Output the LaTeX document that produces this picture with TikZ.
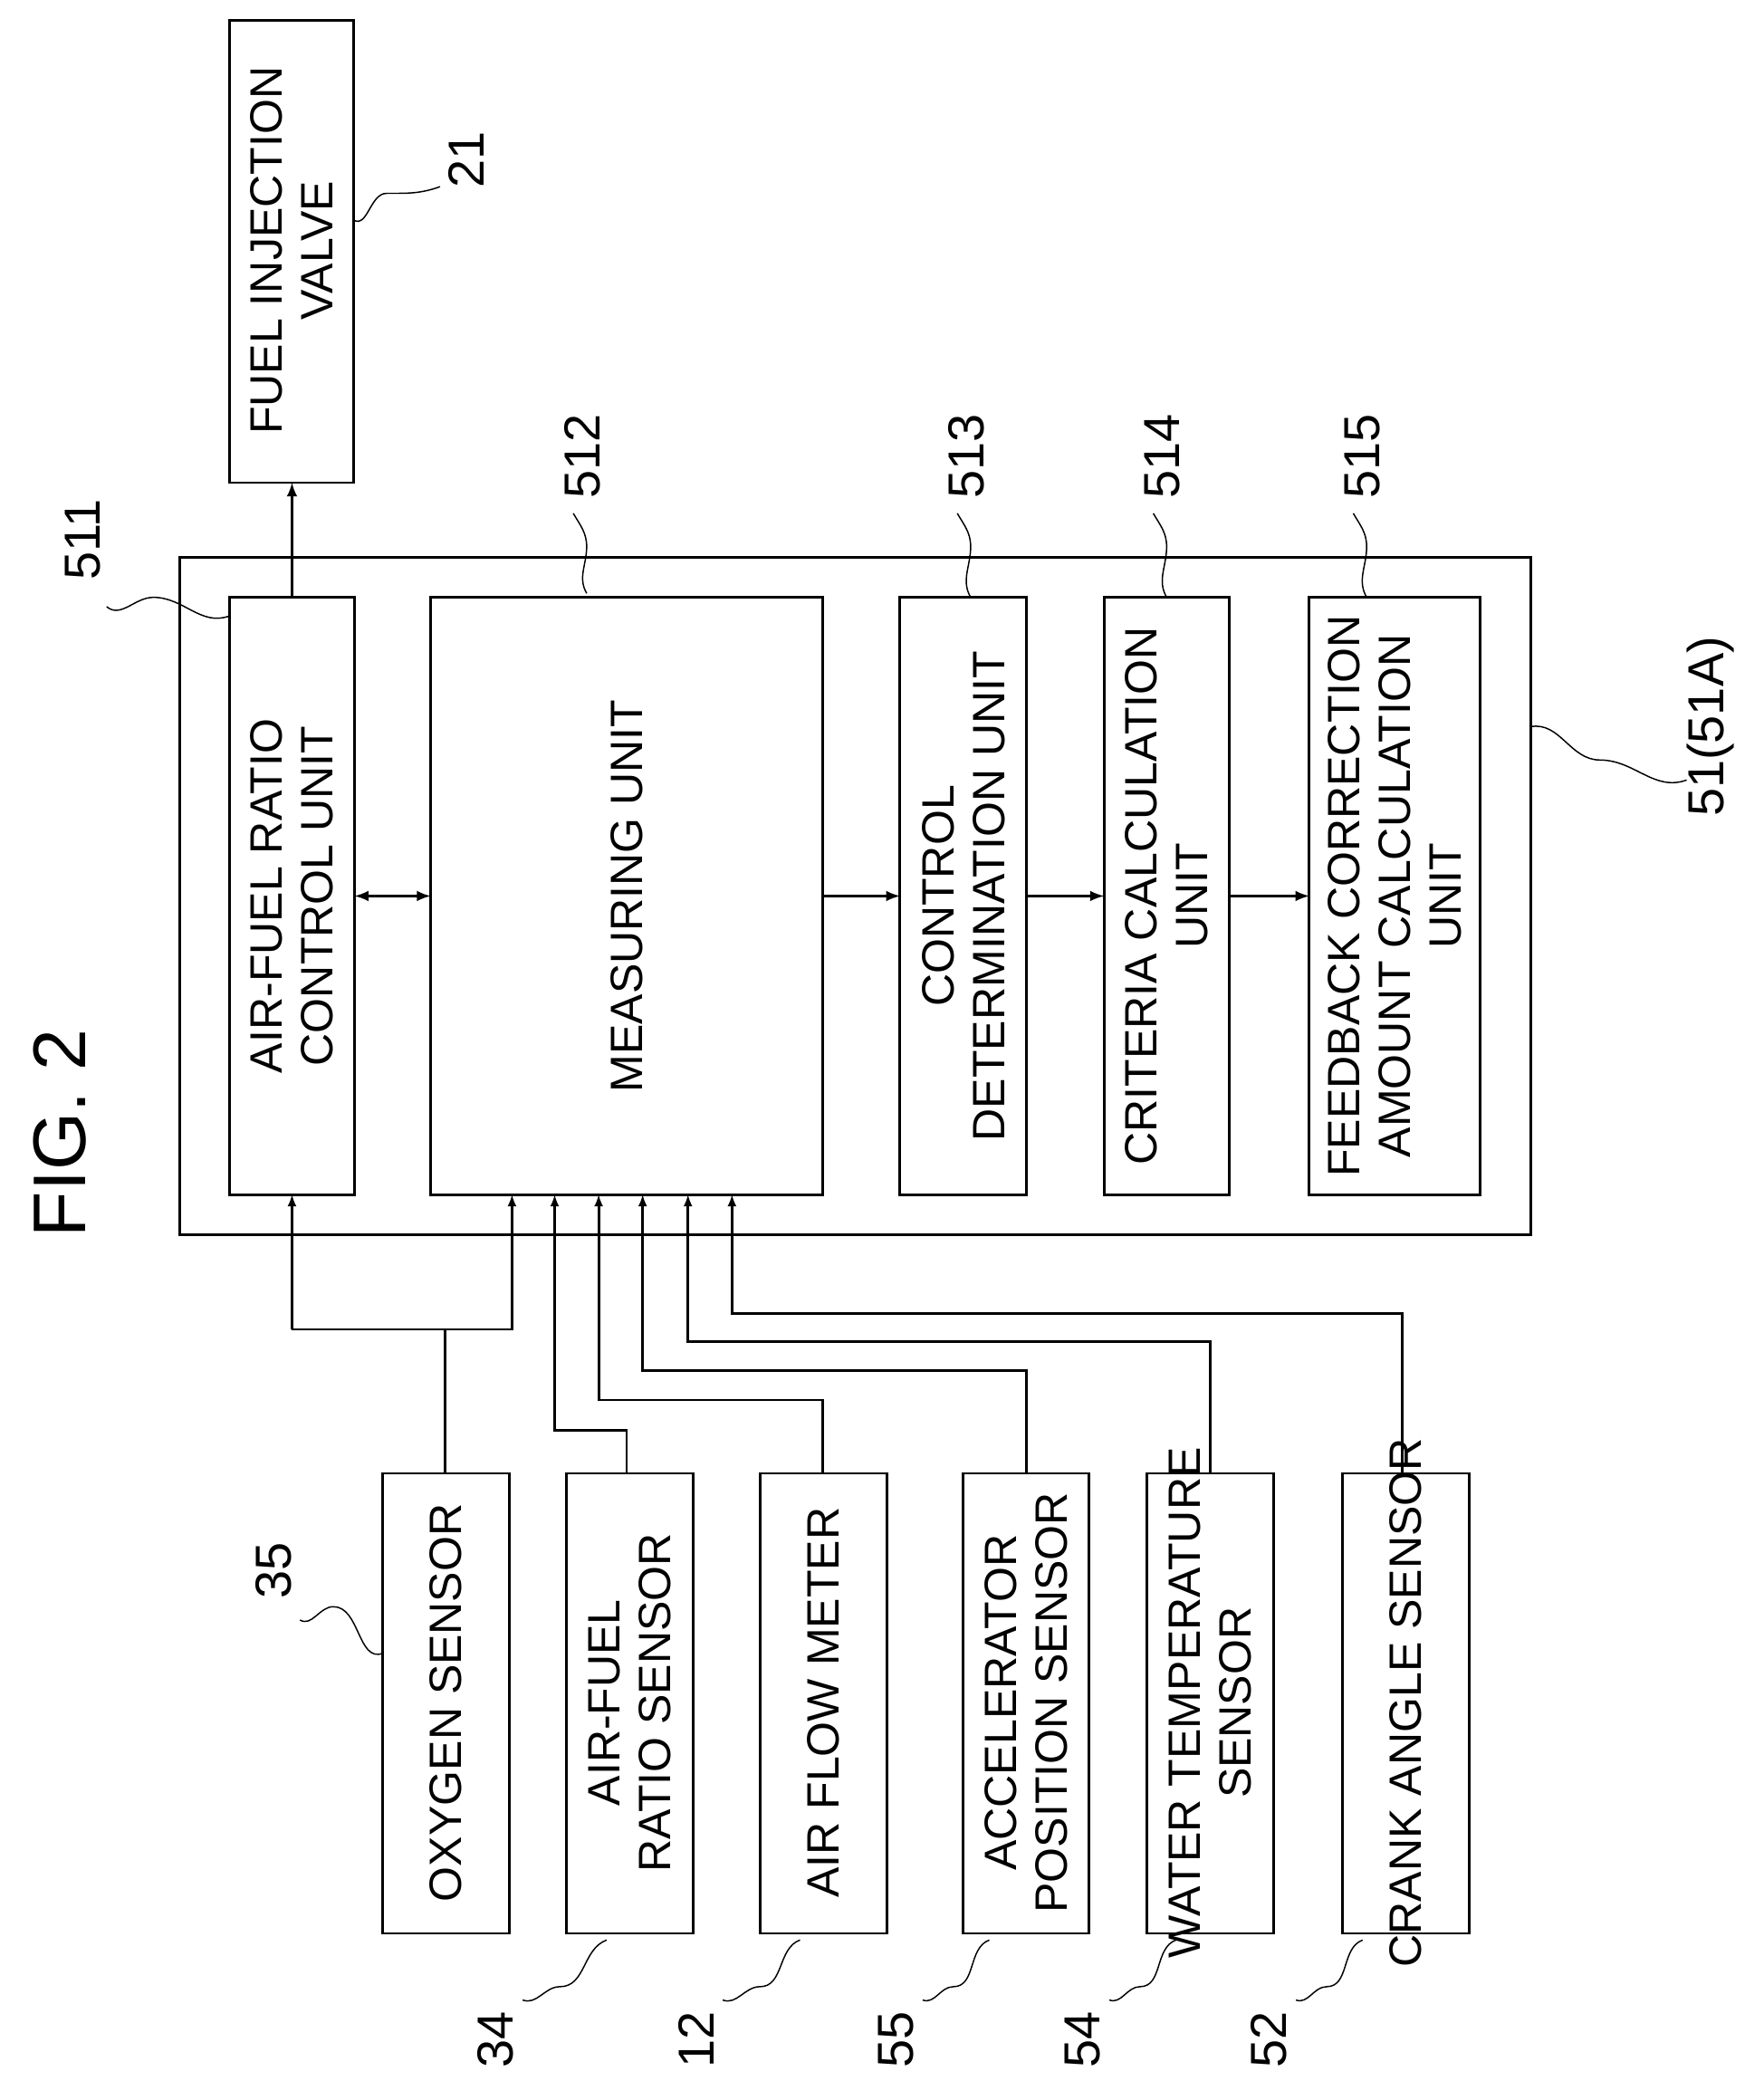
\documentclass[tikz,border=0pt]{standalone}
\usepackage{fontspec}
\setmainfont{Liberation Sans}
\begin{document}
\begin{tikzpicture}[x=1pt,y=-1pt,
  box/.style={draw,line width=2pt},
  txt/.style={rotate=90,align=center,font=\fontsize{34}{38}\selectfont},
  lbl/.style={rotate=90,font=\fontsize{38}{40}\selectfont},
  ar/.style={line width=2.5pt,-latex},
  ln/.style={line width=2pt},
  lead/.style={line width=1pt}]
\useasboundingbox (0,0) rectangle (1323,1575);
\node[rotate=90,font=\fontsize{56}{60}\selectfont] (fig) at (45,850) {FIG. 2};
% boxes
\draw[box] (172,15) rectangle (265,362);
\node[txt] (fiv) at (218.5,188) {FUEL INJECTION\\VALVE};
\draw[box] (135,418) rectangle (1148,926);
\draw[box] (172,448) rectangle (266,896);
\node[txt] (u511) at (219,672) {AIR-FUEL RATIO\\CONTROL UNIT};
\draw[box] (323,448) rectangle (617,896);
\node[txt] (u512) at (470,672) {MEASURING UNIT};
\draw[box] (675,448) rectangle (770,896);
\node[txt] (u513) at (722.5,672) {CONTROL\\DETERMINATION UNIT};
\draw[box] (828,448) rectangle (922,896);
\node[txt] (u514) at (875,672) {CRITERIA CALCULATION\\UNIT};
\draw[box] (982,448) rectangle (1110,896);
\node[txt] (u515) at (1046,672) {FEEDBACK CORRECTION\\AMOUNT CALCULATION\\UNIT};
% sensors
\foreach \x/\t/\n in {287/OXYGEN SENSOR/s35,425/AIR-FUEL\\RATIO SENSOR/s34,570/AIR FLOW METER/s12,722/ACCELERATOR\\POSITION SENSOR/s55,860/WATER TEMPERATURE\\SENSOR/s54,1007/CRANK ANGLE SENSOR/s52}{
  \draw[box] (\x,1105) rectangle ++(95,345);
  \node[txt] (\n) at (\x+47.5,1277) {\t};
}
% arrows between units
\draw[ar] (219,448) -- (219,362);
\draw[line width=2.5pt,latex-latex] (266,672) -- (323,672);
\draw[ar] (617,672) -- (675,672);
\draw[ar] (770,672) -- (828,672);
\draw[ar] (922,672) -- (982,672);
% sensor lines
\draw[ln] (334,1105) -- (334,997);
\draw[ln,-latex] (219,997) -- (219,896);
\draw[ln,-latex] (219,997) -- (384,997) -- (384,896);
\draw[ln,-latex] (470,1105) -- (470,1073) -- (416,1073) -- (416,896);
\draw[ln,-latex] (617,1105) -- (617,1050) -- (449,1050) -- (449,896);
\draw[ln,-latex] (770,1105) -- (770,1028) -- (482,1028) -- (482,896);
\draw[ln,-latex] (908,1105) -- (908,1006) -- (516,1006) -- (516,896);
\draw[ln,-latex] (1052,1105) -- (1052,985) -- (549,985) -- (549,896);
% labels
\node[lbl] (l21) at (350,120) {21};
\draw[lead] (265,165) to[out=-30,in=180] (290,145) to[out=0,in=200] (330,140);
\node[lbl] (l511) at (62,405) {511};
\draw[lead] (80,455) to[out=-40,in=180] (115,448) to[out=0,in=200] (172,462);
\node[lbl] (l512) at (437,342) {512};
\draw[lead] (430,385) to[out=-60,in=90] (440,410) to[out=-90,in=120] (440,445);
\node[lbl] (l513) at (725,342) {513};
\draw[lead] (718,385) to[out=-60,in=90] (728,410) to[out=-90,in=120] (728,448);
\node[lbl] (l514) at (872,342) {514};
\draw[lead] (865,385) to[out=-60,in=90] (875,410) to[out=-90,in=120] (875,448);
\node[lbl] (l515) at (1022,342) {515};
\draw[lead] (1015,385) to[out=-60,in=90] (1025,410) to[out=-90,in=120] (1025,448);
\node[lbl] (l51) at (1283,545) {51(51A)};
\draw[lead] (1148,545) to[out=10,in=180] (1200,570) to[out=0,in=200] (1265,585);
\node[lbl] (l35) at (205,1178) {35};
\draw[lead] (225,1215) to[out=-30,in=180] (250,1205) to[out=0,in=200] (287,1240);
\node[lbl] (l34) at (372,1530) {34};
\draw[lead] (392,1500) to[out=-20,in=180] (420,1490) to[out=0,in=200] (455,1455);
\node[lbl] (l12) at (522,1530) {12};
\draw[lead] (542,1500) to[out=-20,in=180] (570,1490) to[out=0,in=200] (600,1455);
\node[lbl] (l55) at (672,1530) {55};
\draw[lead] (692,1500) to[out=-20,in=180] (715,1490) to[out=0,in=200] (742,1455);
\node[lbl] (l54) at (812,1530) {54};
\draw[lead] (832,1500) to[out=-20,in=180] (855,1490) to[out=0,in=200] (882,1455);
\node[lbl] (l52) at (952,1530) {52};
\draw[lead] (972,1500) to[out=-20,in=180] (995,1490) to[out=0,in=200] (1022,1455);
\end{tikzpicture}
\end{document}
